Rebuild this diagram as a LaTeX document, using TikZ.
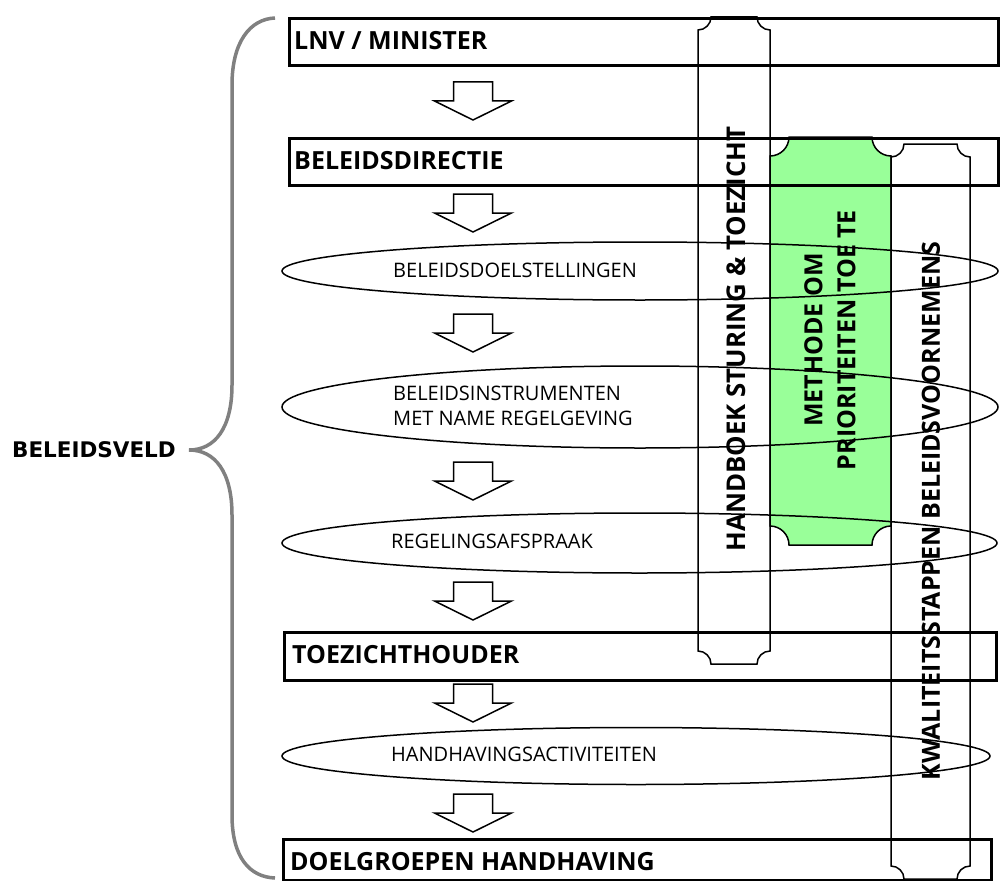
\documentclass[tikz,border=0pt]{standalone}
\usepackage{fontspec}
\setmainfont{Open Sans}
\newfontfamily\breedfont{DejaVu Sans}
\usetikzlibrary{shapes.geometric}
\definecolor{lichtgroen}{RGB}{153,255,153}
\definecolor{accolade}{RGB}{128,128,128}

% kolom met ingesneden hoeken: stijl, links, rechts, boven, onder, straal
\newcommand{\kolompad}[6]{%
  \draw[#1] (#2,#4+#6) .. controls (#2+0.55*#6,#4+#6) and (#2+#6,#4+0.55*#6) .. (#2+#6,#4)
    -- (#3-#6,#4) .. controls (#3-#6,#4+0.55*#6) and (#3-0.55*#6,#4+#6) .. (#3,#4+#6)
    -- (#3,#5-#6) .. controls (#3-0.55*#6,#5-#6) and (#3-#6,#5-0.55*#6) .. (#3-#6,#5)
    -- (#2+#6,#5) .. controls (#2+#6,#5-0.55*#6) and (#2+0.55*#6,#5-#6) .. (#2,#5-#6) -- cycle;}

\tikzset{
  dun/.style={draw=black, line width=1.5pt},
  blok/.style={draw=black, line width=3pt, anchor=north west, inner sep=0pt},
  ovaal/.style={ellipse, draw=black, line width=1.5pt, inner sep=0pt},
  kop/.style={anchor=west, inner sep=0pt, font=\fontsize{25}{29}\selectfont\bfseries},
  tekst/.style={anchor=west, inner sep=0pt, align=left, font=\fontsize{20}{25}\selectfont},
  staand/.style={rotate=90, inner sep=0pt, align=center, font=\fontsize{25}{33}\selectfont\bfseries},
  pics/pijl/.style={code={
    \draw[dun] (-19.5,-19) -- (19.5,-19) -- (19.5,0) -- (38.5,0) -- (0,19)
      -- (-38.5,0) -- (-19.5,0) -- cycle;}}
}

\begin{document}
\begin{tikzpicture}[x=1pt, y=-1pt]
\useasboundingbox (0,0) rectangle (1000,880);

% kolommen eerst (zodat ze achter blijven)
\kolompad{dun}{698}{770}{17}{664}{13}
\kolompad{dun, fill=lichtgroen}{770}{891}{137}{545}{19}
\kolompad{dun}{891}{970}{144}{879}{13}

\node (hst)[staand, font=\fontsize{25.8}{33}\selectfont\bfseries] at (736,339) {HANDBOEK STURING \& TOEZICHT};
\node (mpt)[staand] at (830,340) {METHODE OM\\PRIORITEITEN TOE TE};
\node (kbv)[staand] at (931,511) {KWALITEITSSTAPPEN BELEIDSVOORNEMENS};

% blokken
\node (lnv)[blok, minimum width=709pt, minimum height=47pt] at (288,17) {};
\node (lnvt)[kop] at (294,41) {LNV / MINISTER};
\node (bd)[blok, minimum width=709pt, minimum height=47pt] at (288,137) {};
\node (bdt)[kop] at (294,161) {BELEIDSDIRECTIE};
\node (tz)[blok, minimum width=712pt, minimum height=48pt] at (283,631) {};
\node (tzt)[kop] at (292,655) {TOEZICHTHOUDER};
\node (dg)[blok, minimum width=708pt, minimum height=41pt] at (282,838) {};
\node (dgt)[kop] at (290,862) {DOELGROEPEN HANDHAVING};

% ovalen
\node (doel)[ovaal, minimum width=716pt, minimum height=58pt] at (640,271) {};
\node (doelt)[tekst] at (393,270) {BELEIDSDOELSTELLINGEN};
\node (instr)[ovaal, minimum width=716pt, minimum height=82pt] at (640,407) {};
\node (instrt)[tekst] at (393,406) {BELEIDSINSTRUMENTEN\\MET NAME REGELGEVING};
\node (regel)[ovaal, minimum width=715pt, minimum height=60pt] at (639.5,543) {};
\node (regelt)[tekst] at (391,541) {REGELINGSAFSPRAAK};
\node (hh)[ovaal, minimum width=708pt, minimum height=57pt] at (636,756) {};
\node (hht)[tekst] at (391,754) {HANDHAVINGSACTIVITEITEN};

% pijlen tussen de lagen
\foreach \y in {101,213,333,481,601,703,813}
  \pic at (473,\y) {pijl};

% accolade
\node (bv)[anchor=east, inner sep=0pt, font=\fontsize{21.5}{26}\breedfont\bfseries] at (176,450) {BELEIDSVELD};
\coordinate (punt) at (189,450);
\draw[accolade, line width=3.5pt] (275,18) .. controls (250,19) and (232,42) .. (232,85)
  -- (232,385) .. controls (232,428) and (215,450) .. (punt)
  .. controls (215,450) and (232,472) .. (232,515)
  -- (232,815) .. controls (232,858) and (250,877) .. (275,878);
\end{tikzpicture}
\end{document}
